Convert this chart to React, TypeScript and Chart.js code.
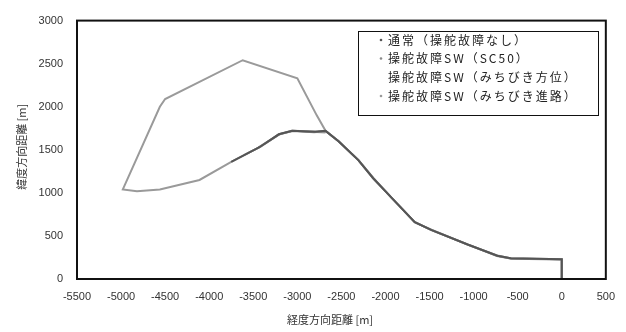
import React, { useEffect, useRef } from "react";
import { Chart, registerables } from "chart.js";

Chart.register(...registerables);

// Series names (legend)
const seriesNames = [
  "通常（操舵故障なし）",
  "操舵故障SW（SC50）",
  "操舵故障SW（みちびき方位）",
  "操舵故障SW（みちびき進路）",
];

// 通常（操舵故障なし）
const normalX = [0, 0, -580, -730, -1068, -1481, -1668, -1932, -2139, -2308, -2533, -2680, -2800, -3060, -3210, -3430, -3750];
const normalY = [0, 230, 240, 270, 400, 570, 660, 945, 1170, 1380, 1600, 1720, 1710, 1720, 1680, 1530, 1360];

// 操舵故障SW（SC50）
const sc50X = [0, 0, -570, -735, -1070, -1480, -1670, -1935, -2140, -2310, -2530, -2675, -2810, -3050, -3200, -3440];
const sc50Y = [0, 225, 235, 268, 402, 568, 662, 948, 1168, 1382, 1598, 1715, 1705, 1718, 1682, 1528];

// 操舵故障SW（みちびき方位）
const hoiX = [0, 0, -575, -728, -1065, -1478, -1665, -1930, -2135, -2305, -2535, -2682, -2790, -3055, -3205, -3420, -3600];
const hoiY = [0, 228, 238, 272, 398, 572, 658, 942, 1172, 1378, 1602, 1722, 1712, 1722, 1678, 1535, 1440];

// 操舵故障SW（みちびき進路）
const shinroX = [0, 0, -580, -730, -1068, -1481, -1668, -1932, -2139, -2308, -2533, -2680, -2780, -3000, -3620, -4500, -4560, -4980, -4820, -4560, -4110, -3750, -3430, -3210, -3060, -2680];
const shinroY = [0, 230, 240, 270, 400, 570, 660, 945, 1170, 1380, 1600, 1720, 1900, 2330, 2540, 2090, 2000, 1040, 1020, 1040, 1150, 1360, 1530, 1680, 1720, 1700];

const seriesColors = ["#555555", "#8a8a8a", "#aaaaaa", "#9a9a9a"];

const xMin = -5500;
const xMax = 500;
const yMin = 0;
const yMax = 3000;
const tickStep = 500;

const xTitle = "経度方向距離 [m]";
const yTitle = "緯度方向距離 [m]";

const toPoints = (xs: number[], ys: number[]) => xs.map((x, i) => ({ x, y: ys[i] }));

const CJK = '"Noto Sans CJK JP", "Noto Sans", sans-serif';
const NUM = '"Liberation Sans", Arial, sans-serif';

const framePlugin = {
  id: "frameAndExtras",
  afterDraw(chart: any) {
    const { ctx, chartArea } = chart;
    const { left, top, right, bottom } = chartArea;
    ctx.save();
    // frame
    ctx.strokeStyle = "#111";
    ctx.lineWidth = 2;
    ctx.strokeRect(left, top, right - left, bottom - top);

    // axis titles
    ctx.fillStyle = "#333";
    ctx.font = `11px ${CJK}`;
    ctx.textAlign = "center";
    ctx.textBaseline = "middle";
    ctx.fillText(xTitle, 330, 320);
    ctx.save();
    ctx.translate(22, (top + bottom) / 2 - 3);
    ctx.rotate(-Math.PI / 2);
    ctx.fillText(yTitle, 0, 0);
    ctx.restore();

    // legend
    const lx = 358, ly = 31, lw = 240, lh = 84;
    ctx.fillStyle = "#fff";
    ctx.fillRect(lx, ly, lw, lh);
    ctx.strokeStyle = "#111";
    ctx.lineWidth = 1;
    ctx.strokeRect(lx + 0.5, ly + 0.5, lw, lh);
    ctx.font = `12px ${CJK}`;
    ctx.textAlign = "left";
    ctx.textBaseline = "middle";
    try { (ctx as any).letterSpacing = "2px"; } catch (e) {}
    const rowsY = [40, 58.5, 77, 96];
    seriesNames.forEach((name, i) => {
      const y = rowsY[i];
      if (i !== 2) {
        ctx.fillStyle = seriesColors[i];
        ctx.beginPath();
        ctx.arc(381, y, 1.3, 0, Math.PI * 2);
        ctx.fill();
      }
      ctx.fillStyle = "#222";
      ctx.fillText(name, 388, y);
    });
    try { (ctx as any).letterSpacing = "0px"; } catch (e) {}
    ctx.restore();
  },
};

export default function App() {
  const ref = useRef<HTMLCanvasElement>(null);

  useEffect(() => {
    if (!ref.current) return;
    const datasets = [
      toPoints(normalX, normalY),
      toPoints(sc50X, sc50Y),
      toPoints(hoiX, hoiY),
      toPoints(shinroX, shinroY),
    ].map((data, i) => ({
      label: seriesNames[i],
      data,
      showLine: true,
      borderColor: seriesColors[i],
      backgroundColor: seriesColors[i],
      borderWidth: 2,
      pointRadius: 0,
      tension: 0,
    }));

    const chart = new Chart(ref.current, {
      type: "scatter",
      data: { datasets },
      options: {
        animation: false,
        responsive: false,
        devicePixelRatio: 1,
        layout: { padding: { top: 13, right: 17, left: 0, bottom: 0 } },
        plugins: {
          legend: { display: false },
          tooltip: { enabled: false },
        },
        scales: {
          x: {
            type: "linear",
            min: xMin,
            max: xMax,
            ticks: {
              stepSize: tickStep,
              color: "#333",
              font: { family: NUM, size: 11 },
              padding: 11,
              maxRotation: 0,
              autoSkip: false,
              callback: (v: any) => String(v),
            },
            grid: { display: false, drawTicks: false },
            border: { display: false },
            afterFit: (s: any) => { s.height = 53; },
          },
          y: {
            type: "linear",
            min: yMin,
            max: yMax,
            ticks: {
              stepSize: tickStep,
              color: "#333",
              font: { family: NUM, size: 11 },
              padding: 14,
              autoSkip: false,
              callback: (v: any) => String(v),
            },
            grid: { display: false, drawTicks: false },
            border: { display: false },
            afterFit: (s: any) => { s.width = 77; },
          },
        },
      },
      plugins: [framePlugin],
    } as any);
    return () => chart.destroy();
  }, []);

  return (
    <div style={{ position: "fixed", left: 0, top: 0, width: 626, height: 332, background: "#fff" }}>
      <canvas ref={ref} width={626} height={332} style={{ width: 626, height: 332, display: "block" }} />
    </div>
  );
}
